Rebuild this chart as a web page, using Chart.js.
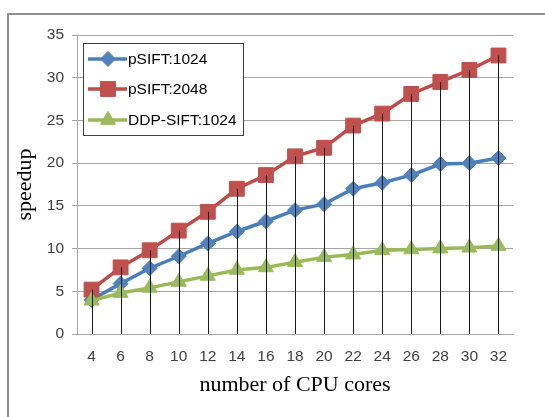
<!DOCTYPE html>
<html>
<head>
<meta charset="utf-8">
<script src="https://cdn.jsdelivr.net/npm/chart.js@4/dist/chart.umd.min.js"></script>
<style>
  html, body { margin: 0; padding: 0; background: #fff; }
</style>
</head>
<body>
<canvas id="speedup-chart" width="545" height="417"></canvas>
<script>
// данные
const cores = ['4', '6', '8', '10', '12', '14', '16', '18', '20', '22', '24', '26', '28', '30', '32'];
const psift1024 = [4.0, 5.9, 7.7, 9.1, 10.6, 12.0, 13.2, 14.5, 15.2, 17.0, 17.7, 18.6, 19.9, 20.0, 20.6];
const psift2048 = [5.2, 7.8, 9.8, 12.1, 14.3, 17.0, 18.6, 20.8, 21.8, 24.4, 25.8, 28.1, 29.5, 30.9, 32.6];
const ddpSift1024 = [3.9, 4.8, 5.4, 6.1, 6.8, 7.5, 7.8, 8.4, 9.0, 9.3, 9.8, 9.9, 10.0, 10.1, 10.3];
const yTicks = [0, 5, 10, 15, 20, 25, 30, 35];

const tickFont = { family: 'Liberation Sans', size: 15.5 };
const titleFont = { family: 'Liberation Serif', size: 22 };

// рамка вокруг всей картинки (видны только левая и верхняя стороны)
const framePlugin = {
  id: 'frame',
  beforeDraw(chart) {
    const ctx = chart.ctx;
    ctx.save();
    ctx.fillStyle = '#8f8f8f';
    ctx.fillRect(7, 13, 2, 404);
    ctx.fillRect(7, 13, 538, 2);
    ctx.restore();
  }
};

// вертикальные линии от верхней точки до оси
const dropLines = {
  id: 'dropLines',
  afterDatasetsDraw(chart) {
    const ctx = chart.ctx, xs = chart.scales.x, ys = chart.scales.y;
    ctx.save();
    ctx.strokeStyle = '#1a1a1a';
    ctx.lineWidth = 1;
    ctx.beginPath();
    cores.forEach((c, i) => {
      const top = Math.max(psift1024[i], psift2048[i], ddpSift1024[i]);
      const px = Math.round(xs.getPixelForValue(i)) + 0.5;
      ctx.moveTo(px, ys.getPixelForValue(top));
      ctx.lineTo(px, ys.getPixelForValue(0));
    });
    ctx.stroke();
    ctx.restore();
  }
};

// легенда в рамке внутри области графика
const boxLegend = {
  id: 'boxLegend',
  afterDraw(chart) {
    const ctx = chart.ctx;
    const bx = 83, by = 43, bw = 160, bh = 92;
    ctx.save();
    ctx.fillStyle = '#fff';
    ctx.fillRect(bx, by, bw, bh);
    ctx.strokeStyle = '#404040';
    ctx.lineWidth = 1;
    ctx.strokeRect(bx + 0.5, by + 0.5, bw, bh);
    const rows = [59, 89, 120];
    chart.data.datasets.forEach((ds, i) => {
      const y = rows[i];
      ctx.strokeStyle = ds.borderColor;
      ctx.lineWidth = ds.borderWidth;
      ctx.beginPath();
      ctx.moveTo(88, y);
      ctx.lineTo(127, y);
      ctx.stroke();
      ctx.fillStyle = ds.pointBackgroundColor;
      ctx.strokeStyle = ds.pointBorderColor;
      ctx.lineWidth = 1;
      Chart.helpers.drawPoint(ctx, { pointStyle: ds.pointStyle, rotation: 0, borderWidth: 1, radius: ds.pointRadius }, 108, y);
      ctx.fillStyle = '#000';
      ctx.font = '15.5px "Liberation Sans"';
      ctx.textBaseline = 'middle';
      ctx.fillText(ds.label, 128, y + 1);
    });
    ctx.restore();
  }
};

new Chart(document.getElementById('speedup-chart'), {
  type: 'line',
  data: {
    labels: cores,
    datasets: [
      {
        label: 'pSIFT:1024',
        data: psift1024,
        order: 3,
        borderColor: '#4A7EBB',
        borderWidth: 3.5,
        pointStyle: 'rectRot',
        pointRadius: 7.5,
        pointBackgroundColor: '#4F81BD',
        pointBorderColor: '#4F81BD',
        pointBorderWidth: 1
      },
      {
        label: 'pSIFT:2048',
        data: psift2048,
        order: 2,
        borderColor: '#BE4B48',
        borderWidth: 3.5,
        pointStyle: 'rect',
        pointRadius: 10.5,
        pointBackgroundColor: '#C0504D',
        pointBorderColor: '#C0504D',
        pointBorderWidth: 1
      },
      {
        label: 'DDP-SIFT:1024',
        data: ddpSift1024,
        order: 1,
        borderColor: '#98B954',
        borderWidth: 3.5,
        pointStyle: 'triangle',
        pointRadius: 8.7,
        pointBackgroundColor: '#9BBB59',
        pointBorderColor: '#9BBB59',
        pointBorderWidth: 1
      }
    ]
  },
  options: {
    responsive: false,
    animation: false,
    layout: { padding: { left: 8, right: 32, top: 35, bottom: 15 } },
    plugins: {
      legend: { display: false },
      tooltip: { enabled: false }
    },
    scales: {
      x: {
        offset: true,
        grid: { display: false, drawTicks: false },
        border: { color: '#a6a6a6', width: 1 },
        ticks: { font: tickFont, color: '#404040', padding: 13, maxRotation: 0 },
        title: { display: true, text: 'number of CPU cores', font: titleFont, color: '#000' },
        afterFit(scale) { scale.height = 68; }
      },
      y: {
        min: 0,
        max: 35,
        afterBuildTicks(scale) { scale.ticks = yTicks.map(v => ({ value: v })); },
        grid: { color: '#a6a6a6', tickLength: 5, tickColor: '#a6a6a6' },
        border: { color: '#a6a6a6', width: 1 },
        ticks: { font: tickFont, color: '#404040', padding: 8 },
        title: { display: true, text: 'speedup', font: titleFont, color: '#000' },
        afterFit(scale) { scale.width = 69; }
      }
    }
  },
  plugins: [framePlugin, dropLines, boxLegend]
});
</script>
</body>
</html>
